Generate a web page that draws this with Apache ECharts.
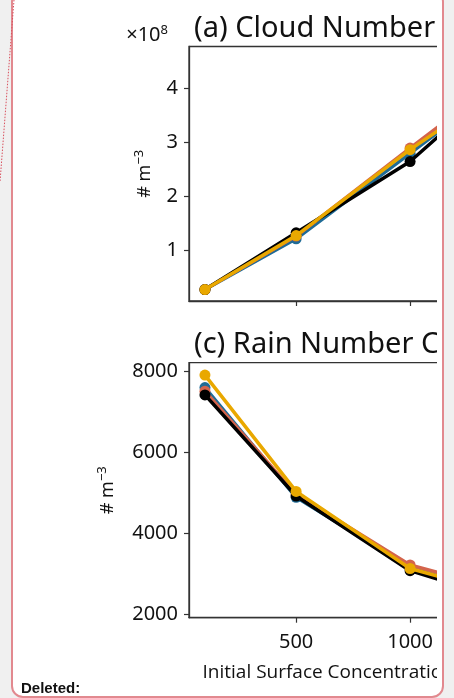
<!DOCTYPE html>
<html><head><meta charset="utf-8">
<script src="https://cdn.jsdelivr.net/npm/echarts@6/dist/echarts.min.js"></script>
<style>
html,body{margin:0;padding:0;width:454px;height:698px;overflow:hidden;background:#f0f0f0;}
#box{position:absolute;left:11px;top:-10px;width:433px;height:708px;background:#fff;border:2px solid #e2898f;border-radius:12px;box-sizing:border-box;}
#clip{position:absolute;left:0;top:0;width:437px;height:698px;overflow:hidden;}
#chart{position:absolute;left:0;top:0;width:600px;height:698px;}
#del{position:absolute;left:21px;top:679px;font:bold 15px 'Liberation Sans',Arial,sans-serif;color:#111;line-height:18px;}
#dots{position:absolute;left:0;top:0;}
</style></head>
<body>
<div id="box"></div>
<svg id="dots" width="20" height="200"><line x1="14" y1="0" x2="0" y2="182" stroke="#d9505e" stroke-width="1" stroke-dasharray="1.5,1.5"/></svg>
<div id="clip"><div id="chart"></div></div>
<div id="del">Deleted:</div>
<script>
// initial surface concentration
var xValues = [100, 500, 1000, 1500];
var seriesNames = ['blue', 'red', 'black', 'yellow'];
var seriesColors = ['#1f6b96', '#d4644c', '#000000', '#e9a800'];
// (a) cloud number concentration, x1e8 # m^-3
var cloudBlue   = [0.28, 1.22, 2.80, 4.40];
var cloudRed    = [0.28, 1.27, 2.90, 4.50];
var cloudBlack  = [0.28, 1.33, 2.65, 4.52];
var cloudYellow = [0.28, 1.28, 2.87, 4.30];
// (c) rain number concentration, # m^-3
var rainBlue   = [7590, 4880, 3150, 2300];
var rainRed    = [7500, 4950, 3210, 2450];
var rainBlack  = [7410, 4914, 3070, 2200];
var rainYellow = [7900, 5027, 3124, 2350];
var xTicks = [500, 1000, 1500];
var cloudTicks = [1, 2, 3, 4];
var rainTicks = [2000, 4000, 6000, 8000];

var FONT = '"Noto Sans", sans-serif';
var NAMEFONT = '"Open Sans", sans-serif';
var cloud = [cloudBlue, cloudRed, cloudBlack, cloudYellow];
var rain = [rainBlue, rainRed, rainBlack, rainYellow];
function pairs(ys){ return xValues.map(function(x,i){ return [x, ys[i]]; }); }
function plain(v){ return String(v); }

var axisCommon = {
  axisLine:{show:true, lineStyle:{color:'#333', width:1.3}},
  splitLine:{show:false}
};
function mkX(idx, labels){
  return Object.assign({}, axisCommon, {
    type:'value', gridIndex:idx, min:30, max:1570,
    axisTick:{show:true, customValues:xTicks, length:5, lineStyle:{color:'#333', width:1.2}},
    axisLabel:{show:labels, customValues:xTicks, formatter:plain, fontFamily:FONT, fontSize:20, color:'#111', margin:15},
    name: labels ? 'Initial Surface Concentration (# cm\u207B\u00B3)' : '',
    nameLocation:'middle', nameGap:45,
    nameTextStyle:{fontFamily:NAMEFONT, fontSize:19, fontWeight:'normal', color:'#111'}
  });
}
function mkY(idx, min, max, ticks, gap){
  return Object.assign({}, axisCommon, {
    type:'value', gridIndex:idx, min:min, max:max,
    axisTick:{show:true, customValues:ticks, length:5, lineStyle:{color:'#333', width:1.2}},
    axisLabel:{customValues:ticks, formatter:plain, fontFamily:FONT, fontSize:20, color:'#111', margin:11},
    name:'# m{s|\u22123}', nameLocation:'middle', nameRotate:90, nameGap:gap,
    nameTextStyle:{fontFamily:FONT, fontSize:18, color:'#111', rich:{s:{fontFamily:FONT, fontSize:13, color:'#111', verticalAlign:'top', padding:[0,0,10,0]}}}
  });
}
var series = [];
[cloud, rain].forEach(function(panel, p){
  panel.forEach(function(ys, i){
    series.push({
      type:'line', name:seriesNames[i], xAxisIndex:p, yAxisIndex:p,
      data:pairs(ys), symbol:'circle', symbolSize:11, showSymbol:true,
      lineStyle:{width:3.5, color:seriesColors[i]}, itemStyle:{color:seriesColors[i]},
      z:2+i, animation:false, silent:true
    });
  });
});
var chart = echarts.init(document.getElementById('chart'), null, {renderer:'canvas'});
chart.setOption({
  animation:false,
  textStyle:{fontFamily:FONT},
  title:[
    {text:'(a) Cloud Number Concentration', left:189, top:9, textStyle:{fontFamily:FONT, fontSize:29, fontWeight:'normal', color:'#111'}},
    {text:'(c) Rain Number Concentration', left:189, top:325, textStyle:{fontFamily:FONT, fontSize:29, fontWeight:'normal', color:'#111'}}
  ],
  graphic:[
    {type:'text', right:600-168, top:24, style:{text:'\u00D710{s|8}', fontFamily:FONT, fontSize:20, fill:'#111',
      rich:{s:{fontFamily:FONT, fontSize:13, fill:'#111', verticalAlign:'top', padding:[0,0,9,0]}}}}
  ],
  grid:[
    {left:189, top:46.5, width:351, height:254.5, show:true, borderColor:'#333', borderWidth:1.3, backgroundColor:'transparent'},
    {left:189, top:362.7, width:351, height:255, show:true, borderColor:'#333', borderWidth:1.3, backgroundColor:'transparent'}
  ],
  xAxis:[mkX(0,false), mkX(1,true)],
  yAxis:[mkY(0, 0.068, 4.78, cloudTicks, 33), mkY(1, 1909, 8205, rainTicks, 70)],
  series:series
});
</script>
</body></html>
